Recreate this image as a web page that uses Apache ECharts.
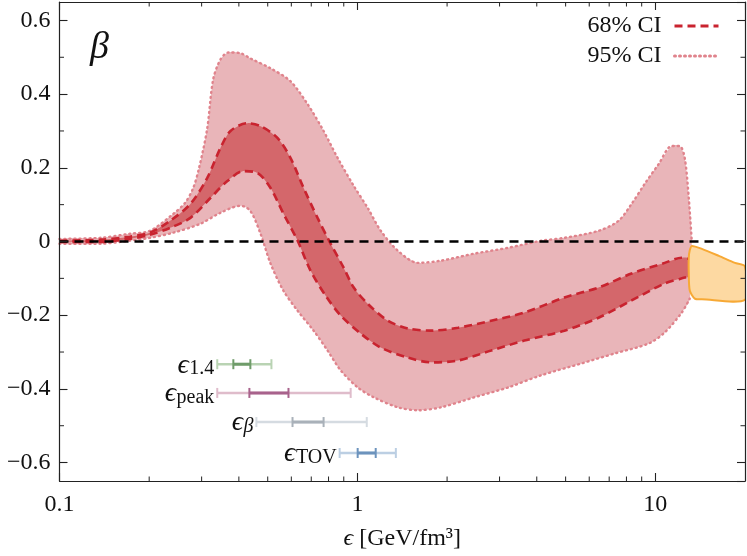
<!DOCTYPE html>
<html><head><meta charset="utf-8">
<script src="https://cdn.jsdelivr.net/npm/echarts@6/dist/echarts.min.js"></script>
<style>html,body{margin:0;padding:0;background:#fff}#c{width:747px;height:556px}</style>
</head><body><div id="c"></div>
<script>
// ---- data ----
const u95 = [[0.100,0.007],[0.137,0.010],[0.172,0.021],[0.201,0.029],[0.241,0.075],[0.264,0.105],[0.281,0.145],[0.294,0.199],[0.313,0.305],[0.328,0.440],[0.347,0.494],[0.369,0.513],[0.405,0.511],[0.437,0.497],[0.511,0.470],[0.596,0.435],[0.680,0.373],[0.770,0.300],[0.858,0.227],[0.972,0.151],[1.083,0.091],[1.198,0.029],[1.367,-0.025],[1.596,-0.058],[1.908,-0.052],[2.464,-0.033],[3.207,-0.017],[4.142,0.002],[4.952,0.010],[6.445,0.029],[7.522,0.056],[8.322,0.102],[9.205,0.156],[10.26,0.210],[11.35,0.259],[12.07,0.259],[12.55,0.227],[12.95,0.118],[13.25,0.002]];
const l95 = [[0.100,-0.006],[0.137,-0.006],[0.160,-0.001],[0.201,0.010],[0.241,0.024],[0.297,0.048],[0.347,0.078],[0.405,0.097],[0.437,0.083],[0.473,0.021],[0.511,-0.060],[0.565,-0.134],[0.630,-0.188],[0.713,-0.242],[0.794,-0.296],[0.879,-0.350],[1.002,-0.396],[1.135,-0.423],[1.367,-0.450],[1.596,-0.458],[1.908,-0.450],[2.464,-0.423],[3.207,-0.396],[4.142,-0.363],[5.648,-0.331],[7.295,-0.304],[9.494,-0.277],[10.75,-0.247],[12.26,-0.193],[13.05,-0.155]];
const u68 = [[0.100,0.002],[0.137,0.005],[0.172,0.013],[0.201,0.024],[0.235,0.056],[0.275,0.102],[0.313,0.172],[0.347,0.254],[0.375,0.300],[0.427,0.321],[0.473,0.313],[0.539,0.281],[0.596,0.227],[0.660,0.145],[0.735,0.064],[0.813,-0.006],[0.899,-0.071],[0.972,-0.125],[1.083,-0.169],[1.265,-0.215],[1.477,-0.236],[1.765,-0.242],[2.177,-0.234],[2.812,-0.215],[3.631,-0.193],[4.952,-0.152],[6.445,-0.125],[8.322,-0.087],[10.75,-0.058],[12.26,-0.044],[12.95,-0.047]];
const l68 = [[0.100,-0.001],[0.137,-0.001],[0.172,0.007],[0.201,0.018],[0.235,0.037],[0.275,0.064],[0.321,0.118],[0.366,0.164],[0.414,0.191],[0.462,0.186],[0.511,0.145],[0.565,0.075],[0.630,0.002],[0.696,-0.079],[0.782,-0.147],[0.879,-0.201],[1.026,-0.250],[1.198,-0.288],[1.477,-0.315],[1.765,-0.328],[2.177,-0.323],[2.812,-0.296],[3.631,-0.269],[4.952,-0.242],[6.445,-0.207],[8.322,-0.160],[10.75,-0.114],[12.55,-0.098],[12.95,-0.096]];
const orangeRegion = [[13.26,-0.012],[14.33,-0.020],[16.34,-0.039],[18.51,-0.058],[20,-0.068],[20,-0.158],[14.33,-0.157],[13.57,-0.155],[13.05,-0.133],[12.95,-0.087],[12.95,-0.044],[13.05,-0.024]];
const zeroLine = [[0.1,0],[20,0]];

const barNames = ['1.4','peak','β','TOV'];
const barLo95 = [0.3385, 0.3385, 0.458, 0.8717];
const barLo68 = [0.3833, 0.4339, 0.6056, 1.002];
const barHi68 = [0.4372, 0.587, 0.770, 1.152];
const barHi95 = [0.5145, 0.9493, 1.075, 1.346];
const barY = [-0.333, -0.411, -0.490, -0.574];

const xMajorLabels = [0.1, 1, 10];
const xMinorTicks = [0.2,0.3,0.4,0.5,0.6,0.7,0.8,0.9,2,3,4,5,6,7,8,9];
const yMinorTicks = [-0.5,-0.3,-0.1,0.1,0.3,0.5];

// ---- style ----
const FONT = "'Liberation Serif','DejaVu Serif',serif";
const AX = '#222';
const barLight = ['#b9d3b3','#dfbccb','#d5dbe1','#bccfe3'];
const barDark  = ['#6f9c6a','#a8628c','#a9b1b9','#6c93bd'];

const mctx = document.createElement('canvas').getContext('2d');
function tw(text, font){ mctx.font = font; return mctx.measureText(text).width; }

const chart = echarts.init(document.getElementById('c'));

function bandRender(upper, lower, color){
  return function(params, api){
    const pts = upper.map(p => api.coord(p)).concat(lower.slice().reverse().map(p => api.coord(p)));
    return {type:'polygon', shape:{points:pts, smooth:0.3}, style:{fill:color}};
  };
}
function orangeRender(params, api){
  const pts = orangeRegion.map(p => api.coord(p));
  return {type:'polygon', shape:{points:pts, smooth:0.25}, style:{fill:'#fdd9a2', stroke:'#f7a935', lineWidth:2, lineJoin:'round'}};
}
function xTickRender(params, api){
  const p = api.coord([api.value(0), 0]);
  const cs = params.coordSys;
  const b = cs.y + cs.height, t = cs.y;
  return {type:'group', children:[
    {type:'line', shape:{x1:p[0], y1:b, x2:p[0], y2:b-4.5}, style:{stroke:AX, lineWidth:1}},
    {type:'line', shape:{x1:p[0], y1:t, x2:p[0], y2:t+4.5}, style:{stroke:AX, lineWidth:1}}
  ]};
}
function yTickRender(params, api){
  const p = api.coord([1, api.value(1)]);
  const cs = params.coordSys;
  const l = cs.x, r = cs.x + cs.width;
  return {type:'group', children:[
    {type:'line', shape:{x1:l, y1:p[1], x2:l+4.5, y2:p[1]}, style:{stroke:AX, lineWidth:1}},
    {type:'line', shape:{x1:r, y1:p[1], x2:r-4.5, y2:p[1]}, style:{stroke:AX, lineWidth:1}}
  ]};
}
function barRender(params, api){
  const i = params.dataIndex;
  const y = api.value(4);
  const pts = [0,1,2,3].map(k => api.coord([api.value(k), y]));
  const yy = pts[0][1];
  const light = barLight[i], dark = barDark[i];
  const h = 5;
  const ch = [
    {type:'line', shape:{x1:pts[0][0], y1:yy, x2:pts[3][0], y2:yy}, style:{stroke:light, lineWidth:2.5}},
    {type:'line', shape:{x1:pts[1][0], y1:yy, x2:pts[2][0], y2:yy}, style:{stroke:dark, lineWidth:3}}
  ];
  [0,3].forEach(k => ch.push({type:'line', shape:{x1:pts[k][0], y1:yy-h, x2:pts[k][0], y2:yy+h}, style:{stroke:light, lineWidth:2}}));
  [1,2].forEach(k => ch.push({type:'line', shape:{x1:pts[k][0], y1:yy-h, x2:pts[k][0], y2:yy+h}, style:{stroke:dark, lineWidth:2}}));
  const sub = barNames[i];
  const subFont = (sub === 'β' ? 'italic ' : '') + '20px ' + FONT;
  const mainFont = 'italic 28px ' + FONT;
  const right = pts[0][0] - 3;
  const sw = tw(sub, subFont), ew = tw('ϵ', mainFont);
  ch.push({type:'text', x: right - sw, y: yy + 5, style:{text:sub, font:subFont, fill:'#111', align:'left', verticalAlign:'middle'}});
  ch.push({type:'text', x: right - sw - ew - 0.5, y: yy + 1, style:{text:'ϵ', font:mainFont, fill:'#111', align:'left', verticalAlign:'middle'}});
  return {type:'group', children:ch};
}

const axisCommon = {
  axisLine:{show:true, onZero:false, lineStyle:{color:AX, width:1.2}},
  axisTick:{show:true, inside:true, length:8, lineStyle:{color:AX, width:1.1}},
  splitLine:{show:false}, minorTick:{show:false}, z:10
};
const yFmt = v => Math.abs(v) < 1e-9 ? '0' : (v < 0 ? '\u2212' + Math.abs(v).toFixed(1) : v.toFixed(1));

chart.setOption({
  animation:false,
  textStyle:{fontFamily:FONT},
  grid:{left:59.5, right:2, top:2, bottom:75},
  legend:{
    orient:'vertical', right:22, top:9, align:'right', itemWidth:44, itemHeight:12, itemGap:6,
    itemStyle:{opacity:0},
    lineStyle:{width:3},
    textStyle:{fontFamily:FONT, fontSize:24, color:'#111', padding:[0,8,0,0]},
    data:['68% CI','95% CI']
  },
  graphic:[{type:'text', left:90, top:29, style:{text:'β', font:'italic 38px ' + FONT, fill:'#111'}}],
  xAxis:[
    Object.assign({}, axisCommon, {type:'log', logBase:10, min:0.1, max:20, position:'bottom',
      name:'{i|ϵ} [GeV/fm³]', nameLocation:'middle', nameGap:46,
      nameTextStyle:{fontFamily:FONT, fontSize:24, color:'#111', rich:{i:{fontFamily:FONT, fontStyle:'italic', fontSize:24, color:'#111'}}},
      axisLabel:{show:true, margin:12, fontSize:24, color:'#111', fontFamily:FONT, showMaxLabel:false,
        formatter: v => { const r = +(+v).toPrecision(3); return xMajorLabels.indexOf(r) >= 0 ? String(r) : ''; }}}),
    Object.assign({}, axisCommon, {type:'log', logBase:10, min:0.1, max:20, position:'top', axisLabel:{show:false}})
  ],
  yAxis:[
    Object.assign({}, axisCommon, {type:'value', min:-0.65, max:0.65, splitNumber:6, minInterval:0.2, maxInterval:0.2, position:'left',
      axisLabel:{show:true, margin:9, fontSize:24, color:'#111', fontFamily:FONT, showMinLabel:false, showMaxLabel:false, formatter:yFmt}}),
    Object.assign({}, axisCommon, {type:'value', min:-0.65, max:0.65, splitNumber:6, minInterval:0.2, maxInterval:0.2, position:'right', axisLabel:{show:false}})
  ],
  series:[
    {type:'custom', name:'band95', renderItem:bandRender(u95, l95, '#e9b5b9'), data:[[1,0]], clip:true, silent:true, z:2},
    {type:'custom', name:'band68', renderItem:bandRender(u68, l68, '#d4676b'), data:[[1,0]], clip:true, silent:true, z:2},
    {type:'line', name:'95% CI', data:u95, smooth:0.3, symbol:'none', showSymbol:false, clip:true, z:3,
      lineStyle:{color:'#e0838c', width:2.4, type:[1,4], cap:'round'}, itemStyle:{color:'#e0838c'}},
    {type:'line', name:'95% CI', data:l95, smooth:0.3, symbol:'none', showSymbol:false, clip:true, z:3,
      lineStyle:{color:'#e0838c', width:2.4, type:[1,4], cap:'round'}, itemStyle:{color:'#e0838c'}},
    {type:'line', name:'68% CI', data:u68, smooth:0.3, symbol:'none', showSymbol:false, clip:true, z:4,
      lineStyle:{color:'#c9232f', width:2.6, type:[8,5]}, itemStyle:{color:'#c9232f'}},
    {type:'line', name:'68% CI', data:l68, smooth:0.3, symbol:'none', showSymbol:false, clip:true, z:4,
      lineStyle:{color:'#c9232f', width:2.6, type:[8,5]}, itemStyle:{color:'#c9232f'}},
    {type:'custom', name:'pQCD', renderItem:orangeRender, data:[[15,0]], clip:true, silent:true, z:5},
    {type:'line', name:'zero', data:zeroLine, symbol:'none', showSymbol:false, silent:true, z:6,
      lineStyle:{color:'#000', width:2.5, type:[9,6]}},
    {type:'custom', name:'bars', renderItem:barRender, silent:true, z:7,
      data: barY.map((y,i) => [barLo95[i], barLo68[i], barHi68[i], barHi95[i], y])},
    {type:'custom', name:'xminor', renderItem:xTickRender, silent:true, z:10, data:xMinorTicks.map(v => [v, 0])},
    {type:'custom', name:'yminor', renderItem:yTickRender, silent:true, z:10, data:yMinorTicks.map(v => [1, v])}
  ]
});
</script></body></html>
